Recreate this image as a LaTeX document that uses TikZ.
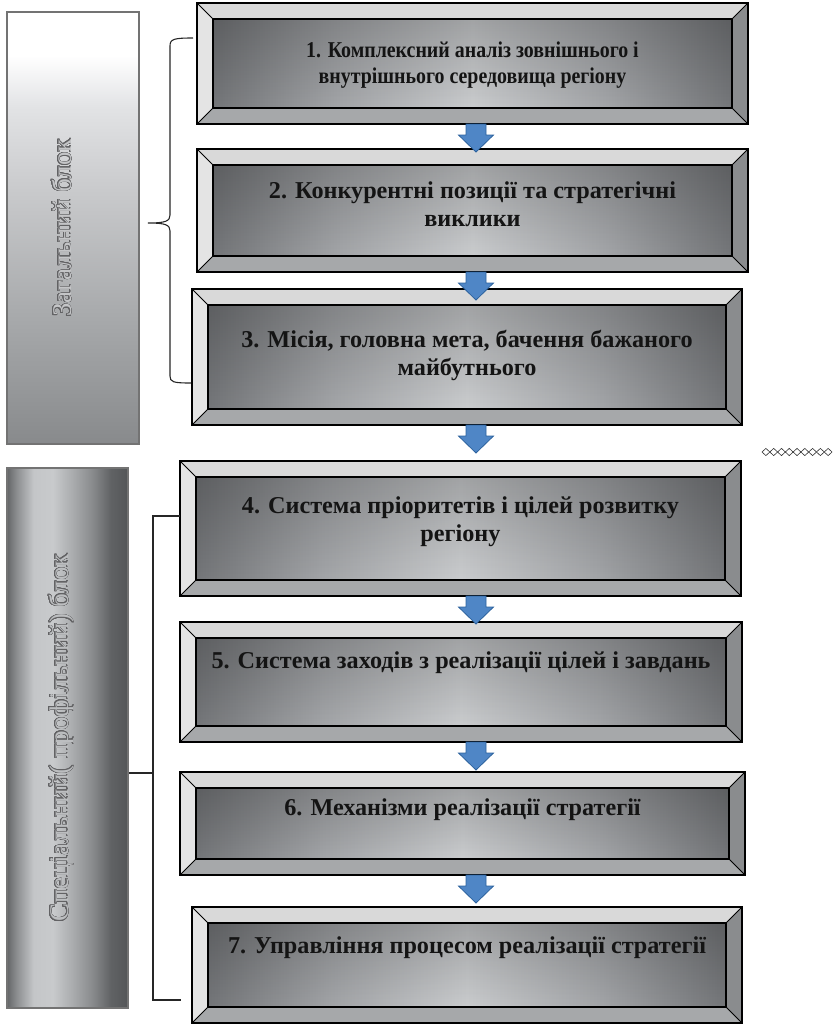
\documentclass[tikz,border=0pt]{standalone}
\usepackage{fontspec}
\setmainfont{Liberation Serif}
\newfontfamily\condserif[FakeStretch=0.88]{Liberation Serif}
\usepackage{contour}
\contourlength{0.32pt}
\contournumber{24}
\usetikzlibrary{fadings}

\definecolor{bevtop}{RGB}{217,217,217}
\definecolor{bevleft}{RGB}{228,228,228}
\definecolor{bevbot}{RGB}{166,168,170}
\definecolor{bevright}{RGB}{138,140,142}
\definecolor{arrfill}{RGB}{79,134,198}
\definecolor{arrdraw}{RGB}{44,98,158}
\definecolor{outl}{RGB}{98,98,100}
\definecolor{lbord}{RGB}{115,115,115}
\definecolor{fA}{RGB}{116,118,121}
\definecolor{fB}{RGB}{163,165,168}
\definecolor{fC}{RGB}{202,204,206}
\definecolor{lA}{RGB}{136,138,140}
\definecolor{lB}{RGB}{168,170,172}
\definecolor{lC}{RGB}{200,201,203}
\definecolor{lD}{RGB}{226,227,229}
\definecolor{mA}{RGB}{100,102,104}
\definecolor{mB}{RGB}{140,142,144}
\definecolor{mC}{RGB}{196,198,200}
\definecolor{mD}{RGB}{200,202,204}
\definecolor{mE}{RGB}{170,172,174}
\definecolor{mF}{RGB}{138,140,142}
\definecolor{mG}{RGB}{96,98,100}
\definecolor{mH}{RGB}{84,86,88}
\definecolor{fillone}{RGB}{196,197,199}
\definecolor{filltwo}{RGB}{188,190,192}

\pgfdeclarehorizontalshading{faceshade}{100bp}{color(0bp)=(fA); color(25bp)=(fA); color(37bp)=(fB); color(50bp)=(fC); color(63bp)=(fB); color(75bp)=(fA); color(100bp)=(fA)}
\pgfdeclareverticalshading{lbone}{100bp}{color(0bp)=(lA); color(25bp)=(lA); color(40bp)=(lB); color(54bp)=(lC); color(64bp)=(lD); color(70bp)=(white); color(100bp)=(white)}
\pgfdeclarehorizontalshading{lbtwo}{100bp}{color(0bp)=(mA); color(25bp)=(mA); color(29bp)=(mB); color(36bp)=(mC); color(44bp)=(mD); color(52bp)=(mE); color(60bp)=(mF); color(68bp)=(mG); color(75bp)=(mH); color(100bp)=(mH)}

\newcommand\outlone[1]{\textcolor{fillone}{\contour{outl}{#1}}}
\newcommand\outltwo[1]{\textcolor{filltwo}{\contour{outl}{#1}}}
\newcommand\bv{16}

\newcommand\bevbox[5]{%
  \node[boxnode, minimum width={(#4-(#2))*1pt}, minimum height={(#5-(#3))*1pt}] (#1) at ({(#2+#4)/2},{(#3+#5)/2}) {};
  \path (#1.north west) coordinate (#1A) (#1.north east) coordinate (#1B)
        (#1.south east) coordinate (#1C) (#1.south west) coordinate (#1D)
        ([shift={(\bv,\bv)}]#1.north west) coordinate (#1a)
        ([shift={(-\bv,\bv)}]#1.north east) coordinate (#1b)
        ([shift={(-\bv,-\bv)}]#1.south east) coordinate (#1c)
        ([shift={(\bv,-\bv)}]#1.south west) coordinate (#1d);
  \fill[bevtop] (#1A) -- (#1B) -- (#1b) -- (#1a) -- cycle;
  \fill[bevleft] (#1A) -- (#1a) -- (#1d) -- (#1D) -- cycle;
  \fill[bevbot] (#1D) -- (#1d) -- (#1c) -- (#1C) -- cycle;
  \fill[bevright] (#1B) -- (#1C) -- (#1c) -- (#1b) -- cycle;
  \shade[shading=faceshade] (#1a) rectangle (#1c);
  \fill[black, path fading=south, fill opacity=0.2] (#1a) rectangle (#1c);
  \draw[line width=1pt] (#1A) -- (#1a) (#1B) -- (#1b) (#1C) -- (#1c) (#1D) -- (#1d);
  \draw[line width=1.5pt] (#1a) rectangle (#1c);
  \draw[line width=1.8pt] (#1A) rectangle (#1C);
}

\tikzset{
  boxnode/.style={inner sep=0pt, outer sep=0pt},
  btext/.style={font=\fontsize{24.2}{28}\selectfont\bfseries, align=center, text=black!92, inner sep=0pt},
  btextsmall/.style={btext, font=\condserif\fontsize{22.6}{26}\selectfont\bfseries},
  sidetext/.style={font=\fontsize{27}{30}\selectfont, inner sep=0pt},
  brk/.style={line width=1.1pt, black!85},
  darr/.pic={\filldraw[fill=arrfill, draw=arrdraw, line width=0.8pt]
     (-10,0) -- (10,0) -- (10,11) -- (17.5,11) -- (0,28) -- (-17.5,11) -- (-10,11) -- cycle;}
}

\begin{document}
\begin{tikzpicture}[x=1pt,y=-1pt]
\useasboundingbox (0,0) rectangle (835,1026);

% left blocks
\node[draw=lbord, line width=1.8pt, shading=lbone, shade, minimum width=132pt, minimum height=432pt, inner sep=0pt] (L1) at (73,228) {};
\node[sidetext, rotate=90, anchor=base] (L1t) at (71,228) {\outlone{Загальний блок}};
\node[draw=lbord, line width=1.8pt, shading=lbtwo, shade, minimum width=121pt, minimum height=540pt, inner sep=0pt] (L2) at (67.5,738) {};
\node[sidetext, rotate=90, anchor=base] (L2t) at (68,738) {\outltwo{Спеціальний( профільний) блок}};

% main boxes
\bevbox{b1}{197}{3}{748}{124}
\bevbox{b2}{197}{149}{748}{272}
\bevbox{b3}{192}{289}{742}{425}
\bevbox{b4}{180}{461}{741}{596}
\bevbox{b5}{180}{622}{742}{742}
\bevbox{b6}{180}{772}{745}{875}
\bevbox{b7}{192}{907}{742}{1023}

\node[btextsmall] (t1) at (472.5,65) {1. Комплексний аналіз зовнішнього і\\внутрішнього середовища регіону};
\node[btext] (t2) at (472.5,204) {2. Конкурентні позиції та стратегічні\\виклики};
\node[btext] (t3) at (467,355) {3. Місія, головна мета, бачення бажаного\\майбутнього};
\node[btext] (t4) at (460.5,522) {4. Система пріоритетів і цілей розвитку\\регіону};
\node[btext] (t5) at (461,663) {5. Система заходів з реалізації цілей і завдань};
\node[btext] (t6) at (462.5,810) {6. Механізми реалізації стратегії};
\node[btext] (t7) at (467,948) {7. Управління процесом реалізації стратегії};

% arrows
\coordinate (ax) at (476,0);
\pic at (b1.south -| ax) {darr};
\pic at (b2.south -| ax) {darr};
\pic at (b3.south -| ax) {darr};
\pic at (b4.south -| ax) {darr};
\pic at (b5.south -| ax) {darr};
\pic at (b6.south -| ax) {darr};

% brace for the first block
\coordinate (br1a) at (193,38);
\coordinate (br1m) at (148,223);
\coordinate (br1b) at (191,383);
\draw[brk] (br1a) .. controls (174,38) and (170,39) .. (170,46) -- (170,215)
  .. controls (170,221) and (166,223) .. (br1m)
  .. controls (166,223) and (170,225) .. (170,231) -- (170,376)
  .. controls (170,382) and (173,383) .. (br1b);

% bracket for the second block
\coordinate (br2a) at (180,516);
\coordinate (br2b) at (181,1000);
\coordinate (br2m) at (153,773);
\draw[brk] (br2a) -- (br2a -| br2m) -- (br2b -| br2m) -- (br2b);
\draw[brk] (L2.east |- br2m) -- (br2m);

% diamonds
\foreach \i in {0,...,8}{
  \pgfmathsetmacro\cx{765.9+7.78*\i}
  \draw[line width=0.6pt, black!80] (\cx-3.9,452) -- (\cx,448.4) -- (\cx+3.9,452) -- (\cx,455.6) -- cycle;
}
\end{tikzpicture}
\end{document}
